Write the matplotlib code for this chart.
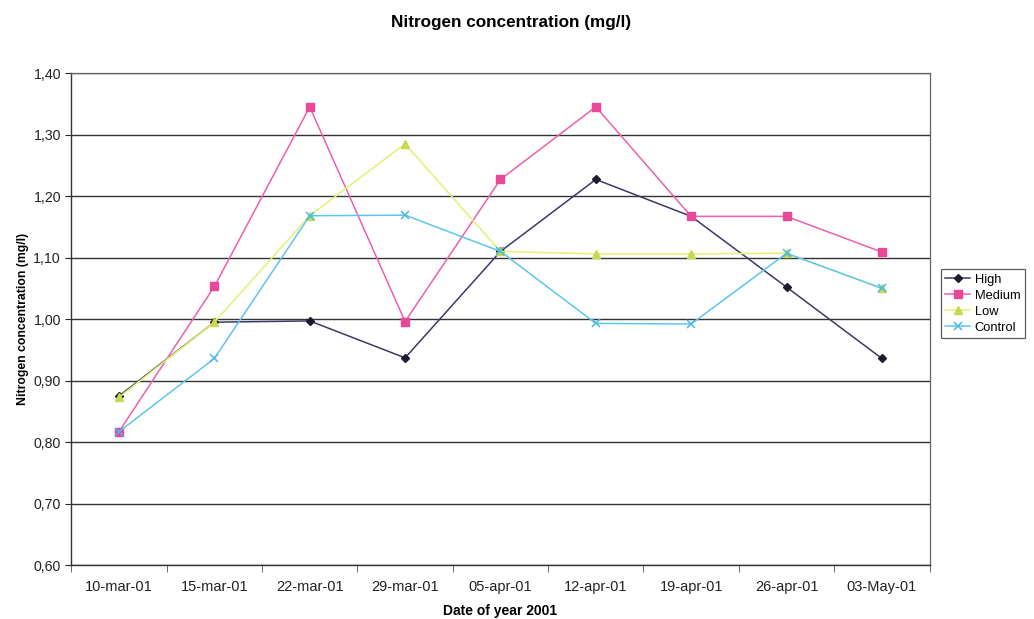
import matplotlib.pyplot as plt
import numpy as np
from matplotlib.ticker import FuncFormatter

plt.rcParams['font.family'] = ['Liberation Sans', 'DejaVu Sans']

dates = ['10-mar-01', '15-mar-01', '22-mar-01', '29-mar-01', '05-apr-01',
         '12-apr-01', '19-apr-01', '26-apr-01', '03-May-01']

high = [0.875, 0.995, 0.997, 0.937, 1.110, 1.227, 1.167, 1.052, 0.936]
medium = [0.817, 1.053, 1.345, 0.996, 1.227, 1.345, 1.167, 1.167, 1.109]
low = [0.873, 0.995, 1.168, 1.285, 1.110, 1.106, 1.106, 1.107, 1.050]
control = [0.817, 0.936, 1.168, 1.169, 1.110, 0.993, 0.992, 1.107, 1.050]

x = np.arange(len(dates))

fig = plt.figure(figsize=(10.34, 6.19), dpi=100)
ax = fig.add_axes([0.069, 0.087, 0.830, 0.795])

ax.plot(x, high, color='#3a3a6a', lw=1.1, marker='D', ms=4.5,
        mfc='#1c1c2e', mec='#1c1c2e', label='High')
ax.plot(x, medium, color='#ee5fae', lw=1.1, marker='s', ms=5.5,
        mfc='#e8479a', mec='#e8479a', label='Medium')
ax.plot(x, low, color='#e8f070', lw=1.1, marker='^', ms=6,
        mfc='#c8d850', mec='#c8d850', label='Low')
ax.plot(x, control, color='#5cc6ee', lw=1.1, marker='x', ms=6,
        mew=1.1, mec='#4ab8e6', label='Control')

ax.set_xlim(-0.5, len(dates) - 0.5)
ax.set_ylim(0.60, 1.40)
ax.set_yticks(np.arange(0.60, 1.401, 0.10))
ax.yaxis.set_major_formatter(FuncFormatter(lambda v, p: f'{v:.2f}'.replace('.', ',')))
ax.grid(axis='y', color='#333333', lw=1.0)
ax.set_axisbelow(True)

# category labels sit between the tick marks, as in a spreadsheet chart
ax.set_xticks(x)
ax.set_xticklabels(dates)
ax.set_xticks(np.arange(-0.5, len(dates)), minor=True)
ax.tick_params(axis='x', which='major', length=0, pad=11, labelsize=10.5, colors='#222222')
ax.tick_params(axis='x', which='minor', length=5, color='#555555')
ax.tick_params(axis='y', length=4, labelsize=10.2, colors='#222222')

for side in ['top', 'right']:
    ax.spines[side].set_color('#666666')
    ax.spines[side].set_linewidth(0.9)
for side in ['left', 'bottom']:
    ax.spines[side].set_color('#333333')
    ax.spines[side].set_linewidth(1.0)

ax.set_xlabel('Date of year 2001', fontsize=10, fontweight='bold', labelpad=7)
ax.set_ylabel('Nitrogen concentration (mg/l)', fontsize=8.8, fontweight='bold', labelpad=3)
fig.text(0.494, 0.964, 'Nitrogen concentration (mg/l)', ha='center', va='center',
         fontsize=12.3, fontweight='bold')

leg = fig.legend(loc='upper left', bbox_to_anchor=(0.910, 0.565), fontsize=9.3,
                 frameon=True, fancybox=False, edgecolor='#333333',
                 handlelength=1.9, handletextpad=0.35, borderpad=0.35,
                 labelspacing=0.3, borderaxespad=0)
leg.get_frame().set_linewidth(0.9)

fig.savefig('out.png', dpi=100)
